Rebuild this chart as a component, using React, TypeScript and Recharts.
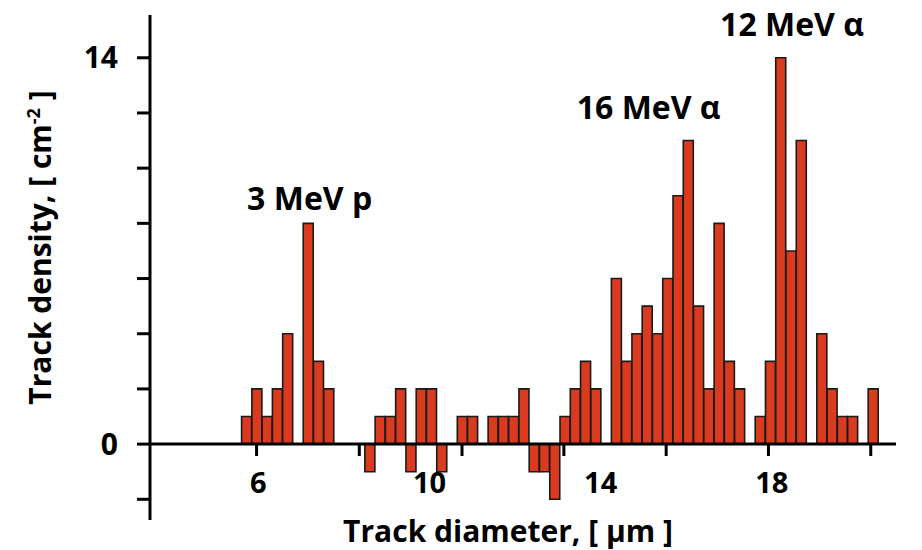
import { Bar, ComposedChart, ReferenceDot, ReferenceLine, XAxis, YAxis } from "recharts";

const FONT = "'Open Sans', sans-serif";

// histogram bins: start of first bin and bin width, in µm
const binStart = 5.61;
const binWidth = 0.24;

// track density per bin, cm^-2 (negative = background-subtracted)
const trackDensity = [
  1, 2, 1, 2, 4, 0, 8, 3, 2, 0,
  0, 0, -1, 1, 1, 2, -1, 2, 2, -1,
  0, 1, 1, 0, 1, 1, 1, 2, -1, -1,
  -2, 1, 2, 3, 2, 0, 6, 3, 4, 5,
  4, 6, 9, 11, 5, 2, 8, 3, 2, 0,
  1, 3, 14, 7, 11, 0, 4, 2, 1, 1,
  0, 2,
];

const xTickLabels = [6, 10, 14, 18];
const xTickMarks = [5.96, 8.36, 10.76, 13.14, 15.53, 17.92, 20.31];
const yTicks = [-2, 0, 2, 4, 6, 8, 10, 12, 14];
const yLabelled = [0, 14];

const peakNames = ["3 MeV p", "16 MeV α", "12 MeV α"];
const peakX = [7.2, 15.12, 18.47];
const peakY = [8.9, 12.2, 15.2];

const data = trackDensity.map((v, i) => ({ d: binStart + binWidth * (i + 0.5), v }));

function XTick({ x, y, payload }: any) {
  return (
    <text x={x} y={y - 27} textAnchor="middle" fill="#000" fontSize={29} fontWeight={700} fontFamily={FONT}>
      {payload.value}
    </text>
  );
}

function XTitle({ viewBox }: any) {
  const vb = viewBox || { x: 150, y: 520, width: 746 };
  return (
    <text
      x={vb.x + vb.width / 2 - 15}
      y={vb.y + 22}
      textAnchor="middle"
      fill="#000"
      fontSize={30}
      fontWeight={700}
      fontFamily={FONT}
    >
      Track diameter, [ µm ]
    </text>
  );
}

function YTitle({ viewBox }: any) {
  const vb = viewBox || { x: 0, y: 15, height: 505 };
  const x = vb.x + 51;
  const y = vb.y + vb.height / 2 - 20;
  return (
    <text
      x={x}
      y={y}
      transform={`rotate(-90, ${x}, ${y})`}
      textAnchor="middle"
      fill="#000"
      fontSize={30}
      fontWeight={700}
      fontFamily={FONT}
    >
      Track density, [ cm
      <tspan dy={-11} fontSize={18}>-2</tspan>
      <tspan dy={11}> ]</tspan>
    </text>
  );
}

export default function App() {
  return (
    <div style={{ position: "absolute", left: 0, top: 0, background: "#fff" }}>
      <ComposedChart
        width={922}
        height={550}
        data={data}
        margin={{ top: 15, right: 26, left: 0, bottom: 0 }}
        barCategoryGap={0}
        barGap={0}
      >
        <XAxis
          dataKey="d"
          type="number"
          domain={[3.47, 20.9]}
          ticks={xTickLabels}
          interval={0}
          height={30}
          axisLine={false}
          tickLine={false}
          tickSize={0}
          tickMargin={0}
          tick={<XTick />}
          label={<XTitle />}
        />
        <YAxis
          type="number"
          domain={[-2.75, 15.55]}
          allowDataOverflow
          ticks={yTicks}
          interval={0}
          width={150}
          tickSize={13}
          tickMargin={19}
          axisLine={{ stroke: "#000", strokeWidth: 3 }}
          tickLine={{ stroke: "#000", strokeWidth: 3 }}
          tick={{ fill: "#000", fontSize: 30, fontWeight: 700, fontFamily: FONT }}
          tickFormatter={(v: number) => (yLabelled.includes(v) ? String(v) : "")}
          label={<YTitle />}
        />
        <Bar dataKey="v" fill="#DA3B1F" stroke="#1a1a1a" strokeWidth={1.6} isAnimationActive={false} />
        <ReferenceLine y={0} stroke="#000" strokeWidth={3} />
        {xTickMarks.map((t) => (
          <ReferenceLine
            key={t}
            segment={[
              { x: t, y: 0 },
              { x: t, y: -0.43 },
            ]}
            stroke="#000"
            strokeWidth={3}
          />
        ))}
        {peakNames.map((name, i) => (
          <ReferenceDot
            key={name}
            x={peakX[i]}
            y={peakY[i]}
            r={0}
            fill="none"
            stroke="none"
            label={{ value: name, position: "center", fill: "#000", fontSize: 32, fontWeight: 700, fontFamily: FONT }}
          />
        ))}
      </ComposedChart>
    </div>
  );
}
